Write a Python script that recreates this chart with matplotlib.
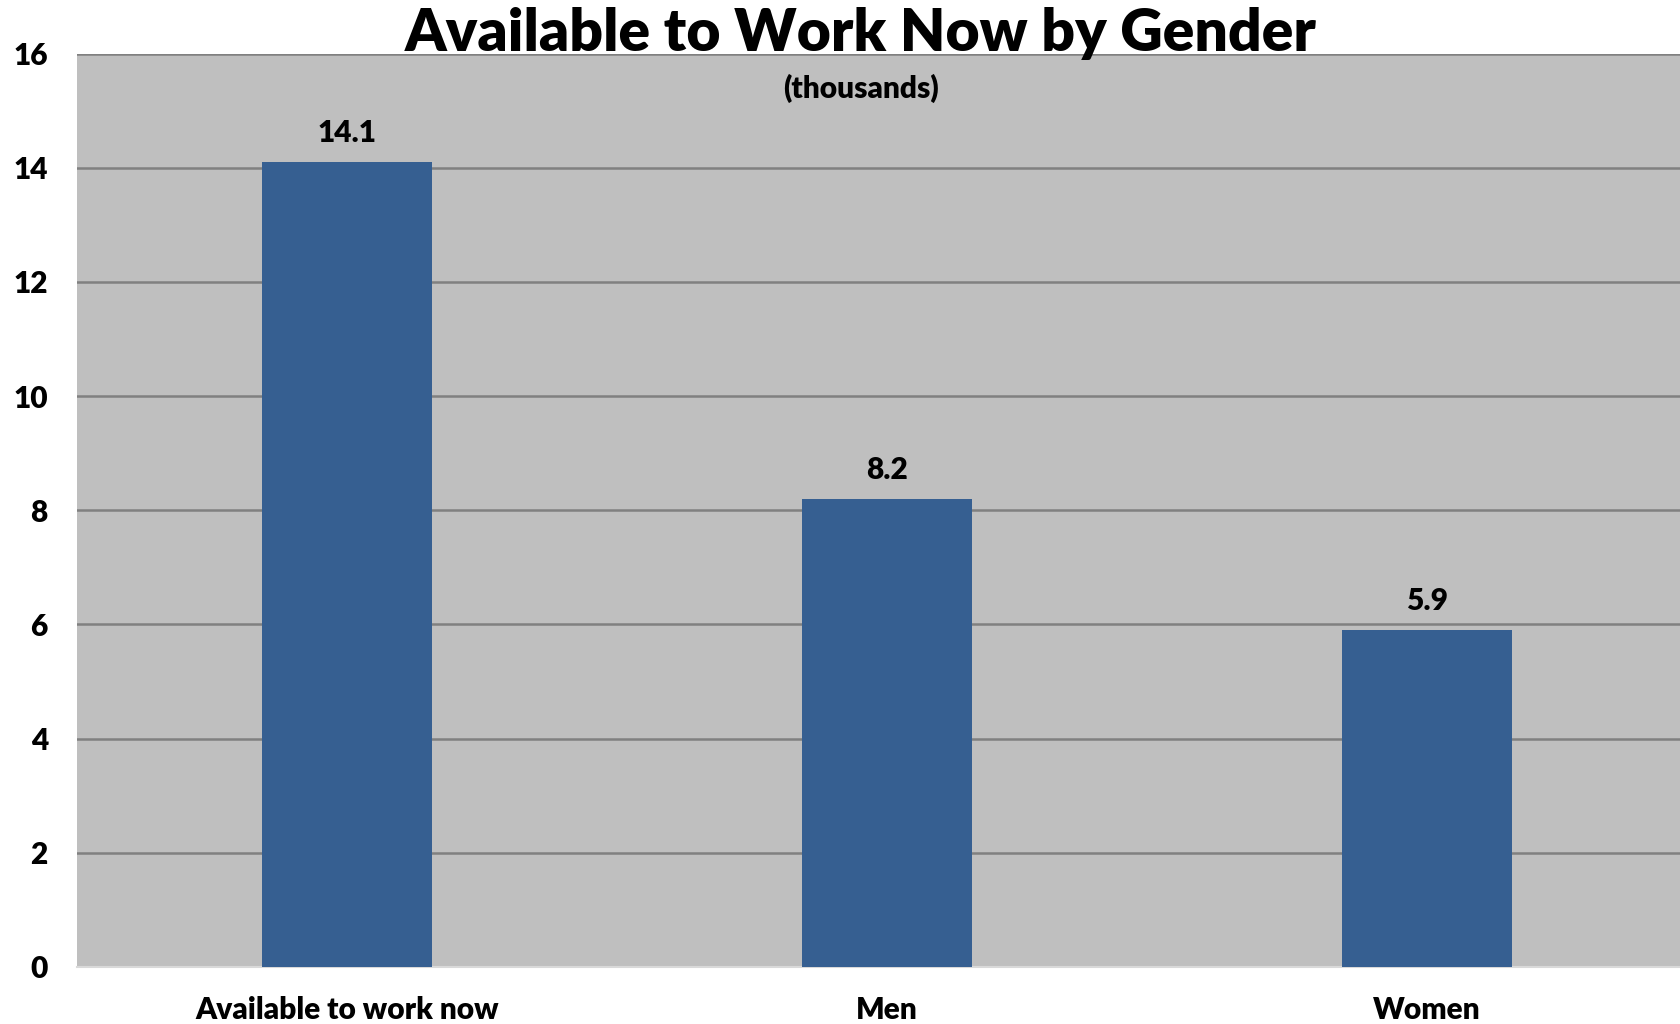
import matplotlib
matplotlib.use("Agg")
import matplotlib.pyplot as plt

categories = ["Available to work now", "Men", "Women"]
values = [14.1, 8.2, 5.9]
yticks = [0, 2, 4, 6, 8, 10, 12, 14, 16]
title = "Available to Work Now by Gender"
subtitle = "(thousands)"

plt.rcParams['font.family'] = ['Lato', 'DejaVu Sans']

W, H = 1681, 1024
fig = plt.figure(figsize=(W/100, H/100), dpi=100)
left, right, top, bottom = 77, 1681, 53.6, 967
ax = fig.add_axes([left/W, 1 - bottom/H, (right-left)/W, (bottom-top)/H])
ax.set_facecolor("#BFBFBF")

x = list(range(len(categories)))
ax.bar(x, values, width=0.315, color="#365F91", zorder=3)
ax.set_xlim(-0.5, 2.47)
ax.set_ylim(0, 16)
ax.set_yticks(yticks)
ax.set_yticklabels([str(v) for v in yticks], fontsize=21.5, fontweight='heavy')
ax.set_xticks(x)
ax.set_xticklabels(categories, fontsize=21.5, fontweight='heavy')
ax.tick_params(axis='both', length=0)
ax.tick_params(axis='y', pad=21)
ax.tick_params(axis='x', pad=21)
ax.yaxis.grid(True, color="#808080", linewidth=1.8, zorder=1)
ax.set_axisbelow(True)
for s in ['left', 'right', 'top']:
    ax.spines[s].set_visible(False)
ax.spines['bottom'].set_color("#D9D9D9")
ax.spines['bottom'].set_linewidth(1.5)

for xi, v in zip(x, values):
    ax.annotate(f"{v}", (xi, v), xytext=(0, 11), textcoords='offset points',
                ha='center', va='bottom', fontsize=21.5, fontweight='heavy')

fig.text(861/W, 1 - 34/H, title, ha='center', va='center', fontsize=42.3, fontweight='heavy')
ax.text(0.4888, 0.962, subtitle, transform=ax.transAxes, ha='center', va='center',
        fontsize=21.5, fontweight='heavy')

fig.savefig("out.png", dpi=100)
